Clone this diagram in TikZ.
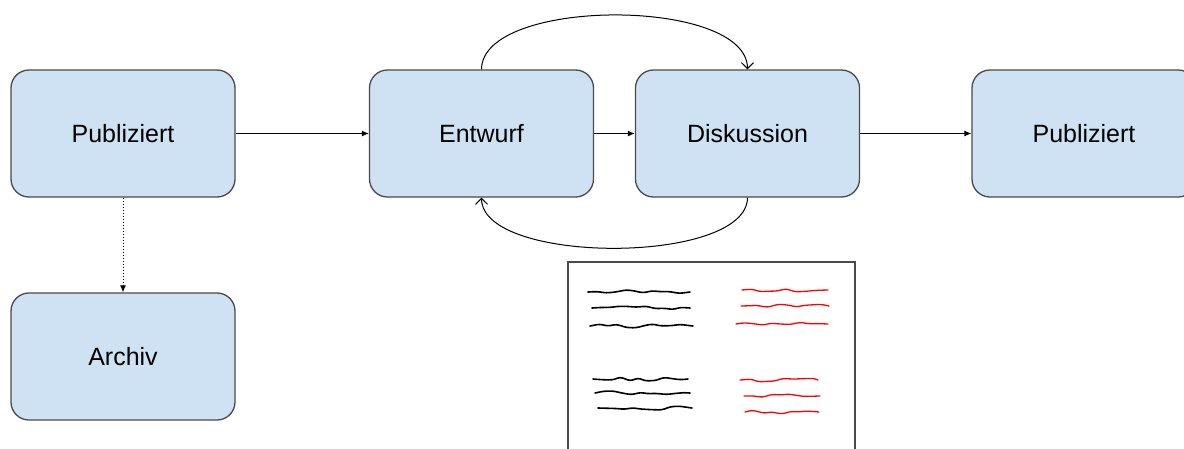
\documentclass[tikz,border=0pt]{standalone}
\usepackage{fontspec}
\setmainfont{Liberation Sans}
\usepackage{tikz}
\usetikzlibrary{arrows.meta, decorations.pathmorphing}
\definecolor{boxfill}{HTML}{CFE2F3}
\definecolor{boxline}{HTML}{4A4A4A}

\begin{document}
\begin{tikzpicture}[x=1pt, y=-1pt,
box/.style = {draw=boxline, line width=1.3pt, fill=boxfill, rounded corners=18pt,
              minimum width=224pt, minimum height=127pt,
              font=\fontsize{25}{30}\selectfont},
flow/.style = {-{Latex[length=7pt,width=6pt]}, line width=1pt},
loop/.style = {-{Straight Barb[length=6pt,width=12pt]}, line width=1pt},
scribble/.style = {line width=1.6pt, line cap=round,
                   decorate, decoration={random steps, segment length=9pt, amplitude=2pt},
                   rounded corners=3pt}
                        ]
\clip (0,0) rectangle (1184,448);
\pgfmathsetseed{7}
\node (pub) [box] at (123,133.5) {Publiziert};
\node (entwurf) [box] at (481.5,133.5) {Entwurf};
\node (disk) [box] at (747.5,133.5) {Diskussion};
\node (pub2) [box] at (1084,133.5) {Publiziert};
\node (archiv) [box] at (123,356.5) {Archiv};
\draw[flow] (pub) -- (entwurf);
\draw[flow] (entwurf) -- (disk);
\draw[flow] (disk) -- (pub2);
\draw[flow, dotted] (pub) -- (archiv);
% Schleifen zwischen Entwurf und Diskussion
\draw[loop] (entwurf.north) .. controls (482,-3) and (747,-3) .. (disk.north);
\draw[loop] (disk.south) .. controls (747,265) and (482,265) .. (entwurf.south);
% Blatt mit Kritzeleien
\draw[boxline, line width=1.3pt] (568,262) rectangle (855,470);
\foreach \xa/\xb/\yy in {588/690/292, 592/690/308, 590/693/326,
                         593/688/379, 595/690/393, 598/692/408}
  \draw[scribble] (\xa,\yy) -- (\xb,\yy);
\foreach \xa/\xb/\yy in {742/828/290, 741/829/306, 736/828/324,
                         740/818/380, 744/820/396, 745/819/412}
  \draw[scribble, red, line width=1.3pt] (\xa,\yy) -- (\xb,\yy);
\end{tikzpicture}
\end{document}
